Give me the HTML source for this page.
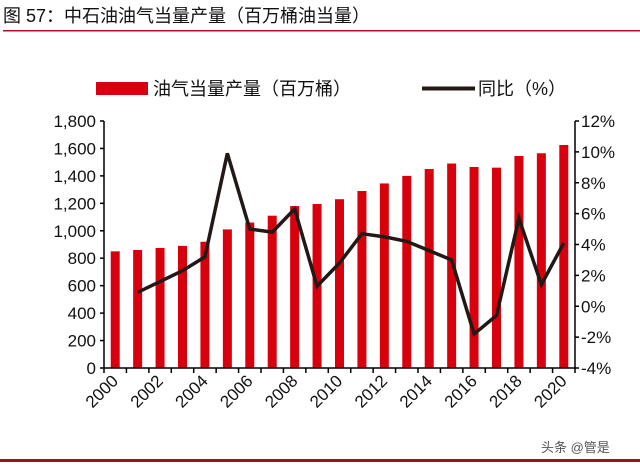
<!DOCTYPE html>
<html><head><meta charset="utf-8">
<style>
body{margin:0;background:#fff;width:640px;height:462px;overflow:hidden;font-family:"Liberation Sans","Noto Sans CJK SC",sans-serif;}
svg text{font-family:"Liberation Sans","Noto Sans CJK SC",sans-serif;}
</style></head>
<body>
<svg id="chart" width="640" height="462" xmlns="http://www.w3.org/2000/svg">
<text x="3" y="22" font-size="18" fill="#111">图 57：中石油油气当量产量（百万桶油当量）</text>
<rect x="3" y="30" width="637" height="1.5" fill="#b01020"/>
<rect x="96" y="82" width="52" height="13" fill="#d9000d"/>
<text x="153" y="95" font-size="18" fill="#111">油气当量产量（百万桶）</text>
<rect x="422" y="86.5" width="53" height="4" fill="#231815"/>
<text x="478" y="95" font-size="18" fill="#111">同比（%）</text>
<g id="plot"></g>
<text x="541" y="452" font-size="13" fill="#555">头条 @管是</text>
<rect x="0" y="459" width="640" height="3" fill="#a01020"/>
</svg>
<script>
const years=[2000,2001,2002,2003,2004,2005,2006,2007,2008,2009,2010,2011,2012,2013,2014,2015,2016,2017,2018,2019,2020];
const production=[850,860,875,890,920,1010,1060,1110,1180,1195,1230,1290,1345,1400,1450,1490,1465,1460,1545,1565,1625];
const yoyYears=[2001,2002,2003,2004,2005,2006,2007,2008,2009,2010,2011,2012,2013,2014,2015,2016,2017,2018,2019,2020];
const yoy=[0.9,1.6,2.3,3.2,9.9,5.0,4.8,6.3,1.3,2.8,4.7,4.5,4.2,3.6,3.0,-1.8,-0.6,5.7,1.4,4.1];
const leftTicks=[0,200,400,600,800,1000,1200,1400,1600,1800];
const rightTicks=[-4,-2,0,2,4,6,8,10,12];
const xLabels=[2000,2002,2004,2006,2008,2010,2012,2014,2016,2018,2020];

const NS="http://www.w3.org/2000/svg";
const g=document.getElementById('plot');
const X0=104,X1=575,Y0=368,Y1=121;
const band=(X1-X0)/years.length;
const xc=y=>X0+(years.indexOf(y)+0.5)*band;
const yl=v=>Y0-(v/1800)*(Y0-Y1);
const yr=v=>Y0-((v+4)/16)*(Y0-Y1);
function mk(t,a){const e=document.createElementNS(NS,t);for(const k in a)e.setAttribute(k,a[k]);g.appendChild(e);return e;}

production.forEach((v,i)=>{
  const r=mk('rect',{x:xc(years[i])-4.5,y:yl(v),width:9,height:Y0-yl(v),fill:'#d9000d'});
  
  
});
const pts=yoy.map((v,i)=>xc(yoyYears[i])+','+yr(v)).join(' ');
const line=mk('polyline',{points:pts,fill:'none',stroke:'#231815','stroke-width':3.5,'stroke-linejoin':'miter'});



const ax=mk('path',{d:`M${X0},${Y1} V${Y0} H${X1} V${Y1}`,fill:'none',stroke:'#000','stroke-width':1.5});


leftTicks.forEach(v=>{
  mk('line',{x1:X0-4,x2:X0,y1:yl(v),y2:yl(v),stroke:'#000','stroke-width':1.5});
  const t=mk('text',{x:X0-8,y:yl(v)+6,'text-anchor':'end','font-size':17,fill:'#111'});
  t.textContent=v.toLocaleString('en-US');
  
  
});
rightTicks.forEach(v=>{
  mk('line',{x1:X1,x2:X1+4,y1:yr(v),y2:yr(v),stroke:'#000','stroke-width':1.5});
  const t=mk('text',{x:X1+6,y:yr(v)+6,'font-size':17,fill:'#111'});
  t.textContent=v+'%';
  
  
});
for(let i=0;i<=years.length;i++){
  const x=X0+i*band;
  mk('line',{x1:x,x2:x,y1:Y0,y2:Y0+5,stroke:'#000','stroke-width':1.5});
}
xLabels.forEach(y=>{
  const x=xc(y)+4,yy=Y0+14;
  const t=mk('text',{x:x,y:yy,'text-anchor':'end','font-size':17,fill:'#111',transform:`rotate(-45 ${x} ${yy})`});
  t.textContent=y;
  
  
});
</script>
</body></html>
